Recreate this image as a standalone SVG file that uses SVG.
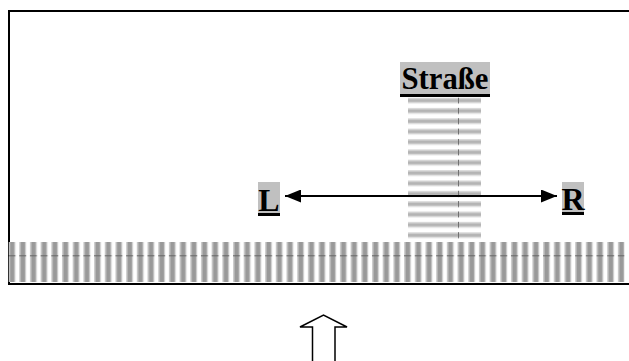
<svg xmlns="http://www.w3.org/2000/svg" width="629" height="361" viewBox="0 0 629 361">
<defs>
<style>
.lbl{font-family:"Liberation Serif","Times New Roman",serif;font-weight:bold;font-size:32px;fill:#000;text-anchor:middle}
.bg{fill:#c0c0c0}
.ul{fill:#000}
.frame{stroke:#000;stroke-width:2;fill:none}
</style>
<pattern id="vstripes" patternUnits="userSpaceOnUse" x="8.5" y="242" width="10.69" height="40">
<rect x="0" y="0" width="7" height="40" fill="#cdcdcd"/>
<rect x="1.5" y="0" width="4.2" height="40" fill="#999"/>
<rect x="0" y="13.3" width="7" height="1" fill="#666"/>
</pattern>
<pattern id="hstripes" patternUnits="userSpaceOnUse" x="408" y="97.5" width="73" height="10.36">
<rect x="0" y="0" width="73" height="6" fill="#dcdcdc"/>
<rect x="0" y="1.5" width="73" height="3" fill="#b4b4b4"/>
<rect x="50" y="0" width="1" height="6" fill="#707070"/>
</pattern>
<marker id="ah" viewBox="0 0 16 13" refX="16" refY="6.5" markerWidth="16" markerHeight="13" markerUnits="userSpaceOnUse" orient="auto-start-reverse">
<path d="M0,0 L16,6.5 L0,13 Z" fill="#000"/>
</marker>
</defs>
<rect x="0" y="0" width="629" height="361" fill="#fff"/>
<g id="frame">
<path class="frame" d="M629,11 H9 V284 H629"/>
</g>
<g id="ground">
<rect x="8.5" y="242" width="616" height="40" fill="url(#vstripes)"/>
</g>
<g id="road">
<rect x="408" y="97.5" width="73" height="144" fill="url(#hstripes)"/>
</g>
<g id="connectors">
<line x1="285" y1="196" x2="557" y2="196" stroke="#000" stroke-width="2" marker-start="url(#ah)" marker-end="url(#ah)"/>
</g>
<g id="label-strasse">
<rect class="bg" x="400" y="62" width="90" height="32"/>
<rect class="ul" x="400" y="94" width="90" height="3"/>
<text class="lbl" x="445" y="89" textLength="87" lengthAdjust="spacingAndGlyphs">Straße</text>
</g>
<g id="label-L">
<rect class="bg" x="258" y="182" width="22" height="31"/>
<rect class="ul" x="258" y="213" width="22" height="3"/>
<text class="lbl" x="269" y="211">L</text>
</g>
<g id="label-R">
<rect class="bg" x="562" y="182" width="22" height="30"/>
<rect class="ul" x="562" y="212" width="22" height="3"/>
<text class="lbl" x="573" y="210">R</text>
</g>
<g id="up-arrow">
<path d="M312.5,362 V327 H300 L323.5,315 L347,327 H335 V362" fill="#fff" stroke="#000" stroke-width="1.5"/>
</g>
</svg>
